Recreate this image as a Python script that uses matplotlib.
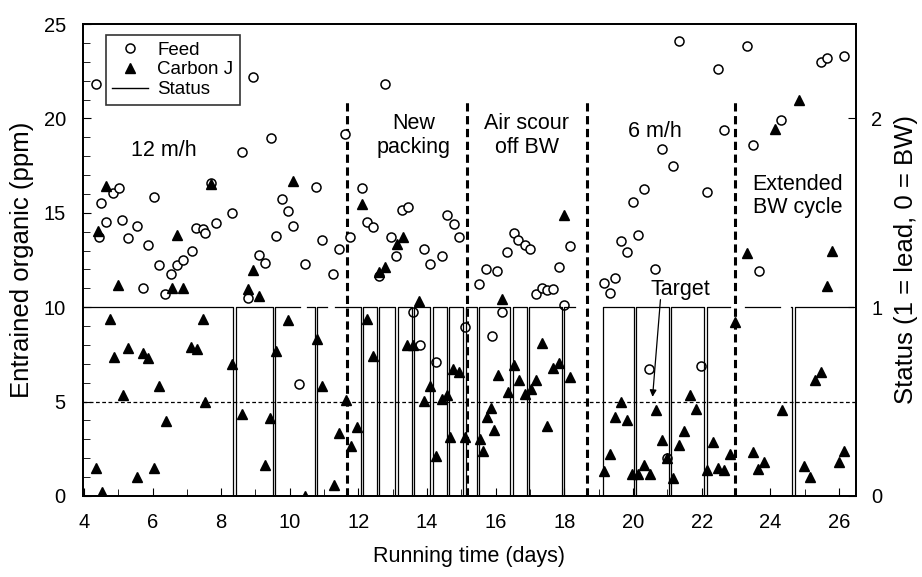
import numpy as np
import matplotlib.pyplot as plt
from matplotlib.ticker import MultipleLocator
from matplotlib.lines import Line2D

plt.rcParams['font.family'] = ['Liberation Sans', 'DejaVu Sans']
plt.rcParams['font.size'] = 14

# feed organic (ppm) vs running time (days)
feed_t = [4.34, 4.44, 4.50, 4.64, 4.85, 5.01, 5.12, 5.29, 5.55, 5.71, 5.87, 6.05, 6.20, 6.36,
          6.54, 6.70, 6.88, 7.14, 7.27, 7.46, 7.54, 7.70, 7.85, 8.31, 8.61, 8.79, 8.94, 9.11,
          9.29, 9.44, 9.60, 9.77, 9.95, 10.10, 10.28, 10.44, 10.76, 10.94, 11.27, 11.43, 11.62,
          11.76, 12.10, 12.26, 12.43, 12.60, 12.76, 12.94, 13.10, 13.26, 13.43, 13.58, 13.78,
          13.92, 14.09, 14.26, 14.43, 14.59, 14.77, 14.92, 15.11, 15.50, 15.72, 15.89, 16.05,
          16.18, 16.34, 16.52, 16.66, 16.84, 17.00, 17.18, 17.34, 17.50, 17.68, 17.83, 18.00,
          18.17, 19.16, 19.33, 19.48, 19.66, 19.82, 19.99, 20.16, 20.33, 20.48, 20.65, 20.84,
          20.98, 21.16, 21.33, 21.98, 22.15, 22.49, 22.64, 23.32, 23.49, 23.66, 24.31, 25.49,
          25.65, 26.14]
feed_ppm = [21.8, 13.7, 15.5, 14.5, 16.05, 16.3, 14.6, 13.65, 14.3, 11.0, 13.3, 15.85, 12.25, 10.7,
            11.75, 12.25, 12.5, 13.0, 14.2, 14.15, 13.95, 16.6, 14.45, 15.0, 18.2, 10.5, 22.2, 12.75,
            12.35, 18.95, 13.75, 15.75, 15.1, 14.3, 5.95, 12.3, 16.35, 13.55, 11.75, 13.1, 19.2,
            13.7, 16.3, 14.5, 14.25, 11.65, 21.8, 13.7, 12.7, 15.15, 15.3, 9.75, 8.0,
            13.1, 12.3, 7.1, 12.7, 14.9, 14.4, 13.7, 8.95, 11.25, 12.0, 8.45, 11.9,
            9.75, 12.9, 13.95, 13.55, 13.3, 13.1, 10.7, 11.0, 10.9, 10.95, 12.15, 10.1,
            13.25, 11.3, 10.75, 11.55, 13.5, 12.95, 15.55, 13.85, 16.25, 6.7, 12.0, 18.4,
            2.0, 17.5, 24.1, 6.9, 16.1, 22.6, 19.4, 23.85, 18.6, 11.9, 19.9, 23.0,
            23.2, 23.3]

# carbon J effluent organic (ppm)
carbon_t = [4.34, 4.42, 4.52, 4.63, 4.76, 4.87, 5.00, 5.13, 5.29, 5.55, 5.71, 5.87, 6.05, 6.20,
            6.38, 6.56, 6.70, 6.88, 7.12, 7.29, 7.46, 7.53, 7.70, 8.31, 8.61, 8.79, 8.94, 9.11,
            9.28, 9.42, 9.60, 9.96, 10.10, 10.44, 10.78, 10.93, 11.29, 11.43, 11.63, 11.78, 11.95,
            12.10, 12.24, 12.43, 12.61, 12.78, 13.11, 13.29, 13.41, 13.60, 13.76, 13.92, 14.09,
            14.26, 14.43, 14.59, 14.67, 14.75, 14.93, 15.11, 15.55, 15.62, 15.74, 15.86, 15.96,
            16.06, 16.18, 16.37, 16.52, 16.69, 16.86, 17.02, 17.18, 17.34, 17.50, 17.68, 17.85,
            18.00, 18.17, 19.16, 19.33, 19.48, 19.66, 19.82, 19.97, 20.16, 20.33, 20.50, 20.68,
            20.84, 20.98, 21.18, 21.33, 21.49, 21.67, 21.83, 22.17, 22.33, 22.49, 22.66, 22.83,
            22.98, 23.32, 23.49, 23.64, 23.83, 24.15, 24.34, 24.83, 24.97, 25.17, 25.31, 25.49,
            25.65, 25.80, 26.00, 26.14]
carbon_ppm = [1.5, 14.05, 0.2, 16.4, 9.4, 7.35, 11.2, 5.35, 7.85, 1.0, 7.55, 7.3, 1.5, 5.8,
              3.95, 11.0, 13.8, 11.0, 7.9, 7.8, 9.35, 5.0, 16.5, 7.0, 4.35, 10.95, 11.95, 10.6,
              1.65, 4.15, 7.7, 9.3, 16.7, 0.0, 8.3, 5.85, 0.6, 3.35, 5.1, 2.65, 3.65,
              15.45, 9.35, 7.4, 11.85, 12.15, 13.35, 13.7, 8.0, 8.0, 10.35, 5.05, 5.8,
              2.1, 5.15, 5.35, 3.1, 6.75, 6.55, 3.1, 3.0, 2.4, 4.2, 4.65, 3.5,
              6.4, 10.45, 5.5, 6.95, 6.15, 5.4, 5.65, 6.15, 8.1, 3.7, 6.8, 7.05,
              14.9, 6.3, 1.35, 2.25, 4.2, 5.0, 4.0, 1.15, 1.15, 1.65, 1.15, 4.55,
              2.95, 2.0, 0.95, 2.7, 3.45, 5.35, 4.6, 1.4, 2.85, 1.5, 1.4, 2.25,
              9.2, 12.85, 2.35, 1.45, 1.8, 19.45, 4.55, 21.0, 1.6, 1.0, 6.15, 6.55,
              11.1, 13.0, 1.8, 2.4]

# status record: logged stretches (start, end, starts at BW) and backwash times
status_segments = [(4.00, 10.30, False), (10.49, 11.07, False), (11.32, 18.31, False),
                   (19.14, 22.84, True), (23.27, 24.29, False), (24.60, 26.42, False)]
backwash_t = [8.35, 9.50, 10.72, 12.07, 12.53, 13.07, 13.55, 14.09, 14.57, 15.06, 15.45,
              16.42, 16.90, 17.93, 20.03, 21.05, 22.08, 24.64]
bw_duration = 0.07

phase_breaks = [11.67, 15.17, 18.65, 22.98]
phase_labels = ['12 m/h', 'New\npacking', 'Air scour\noff BW', '6 m/h', 'Extended\nBW cycle']
target_ppm = 5

st_t, st_s = [], []
for start, end, low in status_segments:
    if low:
        st_t += [start, start]
        st_s += [0, 1]
    else:
        st_t.append(start)
        st_s.append(1)
    for b in backwash_t:
        if start < b < end:
            st_t += [b, b, b + bw_duration, b + bw_duration]
            st_s += [1, 0, 0, 1]
    st_t += [end, np.nan]
    st_s += [1, np.nan]

fig = plt.figure(figsize=(9.22, 5.77), dpi=100)
ax = fig.add_axes([0.0895, 0.1404, 0.839, 0.818])
ax2 = ax.twinx()

ax.plot(feed_t, feed_ppm, 'o', mfc='white', mec='black', ms=6.5, mew=1.1, zorder=3)
ax.plot(carbon_t, carbon_ppm, '^', color='black', ms=7, zorder=3)
ax.axhline(target_ppm, color='black', lw=0.9, ls=(0, (3, 2)), zorder=1)
for xb in phase_breaks:
    ax.plot([xb, xb], [0, 21], color='black', lw=2.2, ls=(0, (2.7, 1.5)), zorder=2)

ax2.plot(st_t, st_s, color='black', lw=0.9)

ax.set_xlim(3.96, 26.5)
ax.set_ylim(0, 25)
ax2.set_ylim(0, 2.5)
ax.xaxis.set_major_locator(MultipleLocator(2))
ax.xaxis.set_minor_locator(MultipleLocator(1))
ax.yaxis.set_major_locator(MultipleLocator(5))
ax.yaxis.set_minor_locator(MultipleLocator(1))
ax2.set_yticks([0, 1, 2])
ax.tick_params(which='both', direction='in', top=False, right=False, labelsize=14.5)
ax.tick_params(axis='x', which='major', length=6, pad=12)
ax.tick_params(axis='y', which='major', length=6, pad=12)
ax.tick_params(which='minor', length=5)
ax2.tick_params(direction='in', length=6, labelsize=14.5, pad=11)
for a in (ax, ax2):
    for sp in a.spines.values():
        sp.set_linewidth(1.3)

ax.set_xlabel('Running time (days)', fontsize=15.5, labelpad=10)
ax.set_ylabel('Entrained organic (ppm)', fontsize=18.5, labelpad=7)
ax2.set_ylabel('Status (1 = lead, 0 = BW)', fontsize=18.5, labelpad=8)

label_xy = [(6.33, 18.3), (13.6, 19.1), (16.9, 19.1), (20.65, 19.3), (24.8, 15.9)]
for (lx, ly), txt in zip(label_xy, phase_labels):
    ax.text(lx, ly, txt, ha='center', va='center', fontsize=15.5, linespacing=1.15)

ax.text(21.38, 10.95, 'Target', ha='center', va='center', fontsize=15.5)
ax.annotate('', xy=(20.57, 5.25), xytext=(20.8, 10.4),
            arrowprops=dict(arrowstyle='-|>', color='black', lw=0.9, shrinkA=0, shrinkB=0,
                            mutation_scale=10))

handles = [Line2D([], [], marker='o', ls='', mfc='white', mec='black', ms=6.5, mew=1.1),
           Line2D([], [], marker='^', ls='', color='black', ms=7),
           Line2D([], [], color='black', lw=1.0)]
leg = ax.legend(handles, ['Feed', 'Carbon J', 'Status'], loc='upper left',
                bbox_to_anchor=(0.025, 0.985), fontsize=13.5, frameon=True, fancybox=False,
                edgecolor='black', handlelength=1.9, handletextpad=0.5, borderpad=0.35,
                labelspacing=0.15, borderaxespad=0.2)
leg.get_frame().set_linewidth(1.2)

fig.savefig('out.png', dpi=100)
